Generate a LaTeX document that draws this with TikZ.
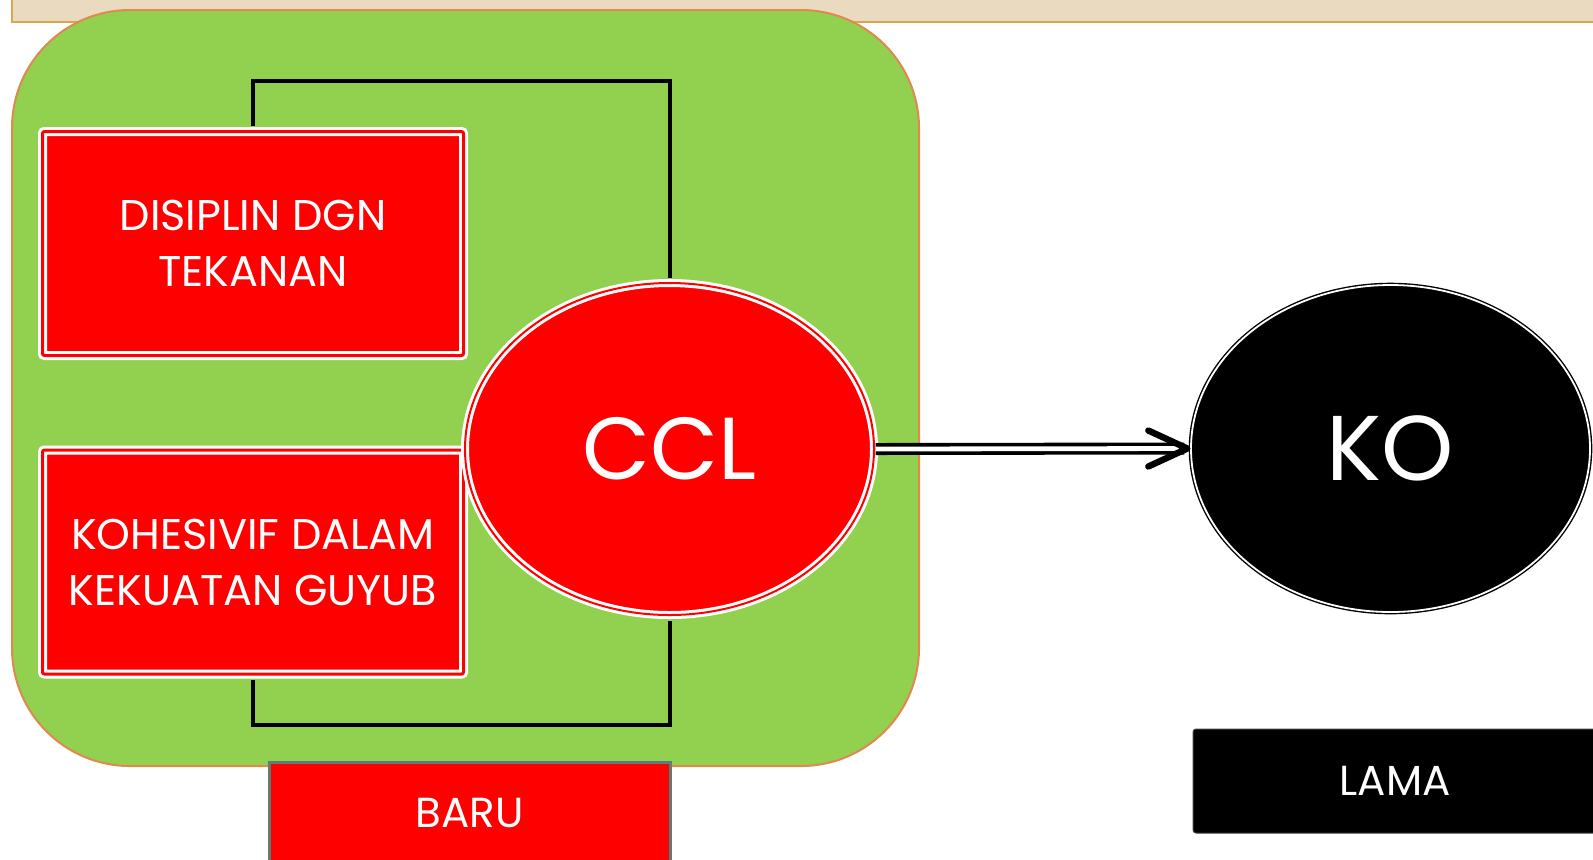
\documentclass[tikz,border=0pt]{standalone}
\usepackage{fontspec}
\setmainfont{Poppins}
\usetikzlibrary{shapes.geometric}
\definecolor{panelgreen}{HTML}{92D050}
\definecolor{panelorange}{HTML}{E0894F}
\definecolor{bandbeige}{HTML}{EADAC0}
\definecolor{bandgold}{HTML}{D8A94C}
\definecolor{tealgrey}{HTML}{5C7D73}
\definecolor{darkgrey}{HTML}{404040}
\def\boxwidth{210.5pt}
\def\boxheight{112pt}

\begin{document}
\begin{tikzpicture}[x=0.5pt,y=-0.5pt]
    \tikzstyle{band}=[fill=bandbeige, draw=bandgold, line width=1pt]
    \tikzstyle{panel}=[fill=panelgreen, draw=panelorange, line width=1pt, rounded corners=59pt]
    \tikzstyle{cause}=[rectangle, fill=red, draw=white, double=red, line width=1.5pt, double distance=1.5pt,
        rounded corners=1pt, minimum width=\boxwidth, minimum height=\boxheight, inner sep=0pt,
        text=white, align=center, font=\fontsize{21.5}{28}\selectfont]
    \tikzstyle{ccl}=[ellipse, fill=red, draw=white, double=red, line width=1.5pt, double distance=1pt,
        minimum width=204.5pt, minimum height=166pt, inner sep=0pt, text=white, font=\fontsize{44}{50}\selectfont]
    \tikzstyle{ko}=[ellipse, fill=black, draw=black, double=white, line width=0.7pt, double distance=0.9pt,
        minimum width=199.5pt, minimum height=163.5pt, inner sep=0pt, text=white, font=\fontsize{46}{50}\selectfont]
    \tikzstyle{link}=[draw=black, line width=2pt, shorten <=2.2pt, shorten >=2pt]
    \tikzstyle{shaft}=[draw=black, double=white, line width=1.8pt, double distance=2.4pt, shorten >=3pt]
    \tikzstyle{barb}=[draw=black, line width=3.2pt, line cap=round, line join=round]
    \tikzstyle{tag}=[rectangle, line width=1.5pt, minimum width=200.5pt, inner sep=0pt,
        text=white, font=\fontsize{21}{24}\selectfont]

    \useasboundingbox (0,0) rectangle (1593,859);
    \clip (0,0) rectangle (1593,859);

    % Draw the title band and the green panel
    \draw[band] (12,-10) rectangle (1610,22);
    \draw[panel] (12,10) rectangle (919,766);

    % Draw the two boxes on the left
    \node[cause] (disiplin) at (253,243.5) {DISIPLIN DGN\\TEKANAN};
    \node[cause] (kohesi) at (253,562) {KOHESIVIF DALAM\\KEKUATAN GUYUB};

    % Draw the two ellipses
    \node[ccl] (ccl) at (669.5,449) {CCL};
    \node[ko] (ko) at (1390.5,448.5) {KO};

    % Connect the boxes with CCL
    \draw[link] (disiplin.north) -- ++(0,-49) -| (ccl.north);
    \draw[link] (kohesi.south) -- ++(0,49) -| (ccl.south);

    % Arrow from CCL to KO
    \draw[shaft] (ccl.east) -- (ko.west);
    \draw[barb] ([xshift=-21pt,yshift=9pt]ko.west) -- ([xshift=-1.5pt]ko.west)
        -- ([xshift=-21pt,yshift=-9pt]ko.west);

    % Label the two sides
    \node[tag, fill=red, draw=tealgrey, minimum height=51pt] (baru) at (469.5,813) {BARU};
    \node[tag, fill=black, draw=darkgrey, line width=0.5pt, rounded corners=1.5pt,
        minimum width=202pt, minimum height=52pt] (lama) at (1395,781) {LAMA};
\end{tikzpicture}
\end{document}
